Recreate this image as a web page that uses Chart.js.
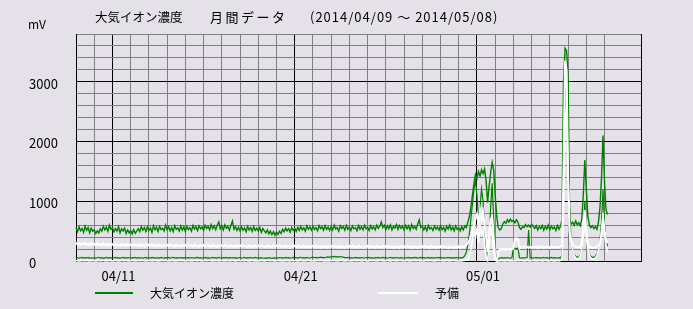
<!DOCTYPE html>
<html>
<head>
<meta charset="utf-8">
<script src="https://cdn.jsdelivr.net/npm/chart.js@4.4.1/dist/chart.umd.min.js"></script>
<style>
    html, body { margin: 0; padding: 0; background: #e5e1e8; }
</style>
</head>
<body>
<canvas id="ionChart" width="693" height="309"></canvas>
<script>
const titleParts = ["大気イオン濃度", "月間データ", "(2014/04/09 ～ 2014/05/08)"];
const unitLabel = "mV";
const seriesNames = ["大気イオン濃度", "予備"];
const tickDays = [2, 12, 22];
const tickLabels = ["04/11", "04/21", "05/01"];
const yMax = 3800;

// 2-hourly readings from 2014/04/09 00:00, one row per day
const ionUpper = [
    555, 490, 570, 505, 545, 480, 585, 515, 560, 470, 550, 500,
    520, 460, 505, 470, 540, 500, 580, 520, 565, 495, 600, 530,
    560, 490, 545, 500, 575, 470, 540, 505, 550, 460, 520, 470,
    510, 455, 525, 465, 500, 540, 490, 575, 515, 560, 495, 570,
    510, 555, 480, 590, 520, 565, 495, 580, 525, 550, 500, 600,
    520, 575, 505, 560, 490, 590, 530, 555, 500, 585, 515, 570,
    495, 580, 525, 560, 500, 595, 535, 575, 510, 590, 540, 570,
    515, 600, 545, 580, 520, 610, 540, 590, 525, 600, 655, 540,
    590, 520, 605, 545, 580, 515, 595, 670, 530, 575, 510, 565,
    500, 570, 515, 555, 490, 580, 520, 560, 495, 575, 510, 550,
    500, 560, 480, 545, 505, 470, 520, 455, 500, 440, 490, 430,
    485, 445, 500, 460, 530, 490, 550, 505, 540, 485, 560, 510,
    545, 495, 565, 510, 580, 520, 555, 500, 590, 530, 570, 515,
    585, 525, 560, 505, 595, 540, 575, 515, 590, 530, 565, 510,
    580, 520, 600, 535, 560, 500, 590, 545, 575, 515, 595, 530,
    570, 510, 585, 540, 560, 505, 595, 530, 575, 520, 600, 540,
    565, 510, 590, 535, 575, 520, 600, 545, 580, 655, 560, 600,
    525, 590, 540, 605, 520, 580, 550, 610, 530, 595, 545, 585,
    520, 600, 540, 590, 515, 610, 545, 580, 530, 620, 690, 560,
    590, 520, 575, 505, 595, 535, 560, 510, 585, 530, 570, 515,
    590, 525, 565, 500, 580, 535, 600, 520, 570, 505, 585, 530,
    560, 505, 575, 520, 590, 560, 650, 740, 900, 1100, 1300, 1450,
    1380, 1500, 1420, 1530, 1460, 1540, 1350, 980, 1250, 1480, 1650, 1520,
    1100, 750, 560, 520, 540, 620, 660, 630, 690, 650, 700, 660,
    680, 640, 690, 650, 560, 530, 575, 560, 610, 575, 600, 565,
    615, 580, 545, 590, 520, 575, 540, 595, 515, 580, 535, 600,
    520, 585, 540, 570, 510, 595, 530, 580, 700, 3000, 3560, 3520,
    3100, 700, 620, 650, 600, 670, 610, 640, 590, 700, 1100, 1690,
    1200, 750, 600, 560, 590, 540, 575, 530, 650, 900, 1400, 2100,
    1300, 850, 780
];
const ionLower = [
    52, 58, 47, 55, 61, 49, 56, 51, 60, 46, 54, 50,
    57, 48, 55, 62, 50, 57, 45, 53, 59, 49, 56, 52,
    48, 55, 60, 50, 57, 46, 54, 61, 49, 55, 51, 58,
    47, 56, 52, 60, 48, 55, 50, 58, 46, 54, 59, 50,
    55, 49, 61, 52, 57, 47, 56, 50, 60, 53, 48, 57,
    51, 59, 46, 55, 62, 50, 56, 48, 58, 52, 55, 49,
    60, 51, 55, 47, 58, 53, 49, 57, 61, 50, 56, 48,
    54, 60, 50, 57, 46, 55, 59, 51, 56, 48, 62, 52,
    49, 57, 53, 60, 47, 55, 51, 58, 50, 56, 45, 54,
    58, 50, 55, 61, 48, 56, 52, 59, 47, 55, 60, 51,
    53, 48, 57, 50, 44, 52, 46, 55, 49, 43, 51, 47,
    55, 49, 58, 51, 56, 47, 60, 53, 57, 50, 55, 61,
    52, 58, 49, 56, 62, 51, 57, 48, 59, 54, 50, 58,
    63, 55, 60, 52, 58, 64, 57, 61, 55, 66, 70, 62,
    74, 68, 76, 70, 72, 66, 75, 69, 64, 58, 55, 60,
    52, 57, 49, 55, 60, 51, 56, 48, 58, 53, 50, 57,
    55, 60, 50, 57, 47, 56, 52, 59, 49, 55, 61, 52,
    57, 50, 55, 62, 48, 56, 51, 58, 54, 49, 57, 53,
    50, 58, 53, 60, 47, 55, 52, 59, 56, 49, 55, 60,
    52, 57, 48, 55, 61, 50, 56, 53, 47, 58, 51, 55,
    59, 50, 56, 48, 54, 60, 51, 57, 49, 55, 52, 58,
    50, 56, 52, 60, 90, 150, 280, 450, 700, 950, 1200, 1350,
    1100, 700, 900, 1200, 1000, 600, 250, 40, 300, 900, 1300, 700,
    150, 20, 30, 50, 55, 48, 56, 50, 58, 52, 49, 55,
    210, 215, 205, 220, 55, 50, 57, 48, 55, 60, 520, 52,
    58, 49, 55, 61, 50, 56, 47, 54, 59, 51, 56, 48,
    55, 60, 50, 57, 52, 48, 56, 51, 100, 1500, 2800, 3000,
    2000, 900, 300, 180, 110, 80, 60, 70, 100, 200, 450, 1000,
    450, 200, 110, 80, 60, 60, 80, 120, 200, 350, 650, 1200,
    600, 350, 250
];
const spareUpper = [
    310, 275, 300, 265, 295, 280, 305, 270, 290, 262, 298, 275,
    288, 262, 295, 270, 285, 258, 292, 268, 280, 255, 290, 265,
    282, 258, 290, 262, 278, 255, 286, 260, 275, 250, 284, 262,
    276, 252, 285, 258, 272, 250, 280, 255, 270, 248, 282, 256,
    274, 250, 280, 254, 268, 246, 278, 252, 266, 244, 276, 250,
    270, 248, 278, 252, 265, 242, 275, 250, 262, 240, 272, 248,
    268, 245, 276, 250, 262, 240, 274, 248, 260, 238, 270, 246,
    266, 242, 272, 248, 258, 236, 270, 245, 256, 234, 268, 244,
    264, 240, 270, 246, 256, 234, 268, 242, 254, 232, 266, 240,
    262, 238, 268, 244, 254, 232, 265, 240, 252, 230, 264, 238,
    260, 236, 266, 242, 252, 230, 262, 238, 250, 228, 262, 236,
    258, 234, 264, 240, 250, 228, 260, 236, 248, 226, 258, 234,
    256, 232, 262, 238, 248, 226, 258, 234, 246, 225, 256, 232,
    255, 230, 260, 236, 246, 224, 256, 232, 245, 222, 255, 230,
    254, 228, 258, 234, 245, 222, 255, 230, 244, 220, 254, 228,
    252, 227, 257, 233, 244, 221, 254, 229, 243, 220, 252, 227,
    251, 226, 256, 232, 243, 220, 253, 228, 242, 219, 251, 226,
    250, 225, 255, 231, 242, 219, 252, 227, 241, 218, 250, 225,
    249, 224, 254, 230, 241, 218, 251, 226, 240, 217, 249, 224,
    248, 223, 253, 229, 240, 217, 250, 225, 239, 216, 248, 223,
    247, 222, 252, 228, 239, 216, 249, 224, 238, 215, 247, 222,
    246, 221, 251, 228, 240, 270, 300, 350, 420, 500, 600, 700,
    780, 650, 850, 700, 820, 600, 400, 150, 500, 700, 740, 400,
    60, 10, 120, 200, 190, 205, 185, 200, 195, 210, 190, 200,
    205, 375, 380, 365, 210, 235, 220, 245, 225, 240, 218, 238,
    222, 245, 228, 240, 215, 238, 225, 246, 220, 236, 228, 242,
    218, 240, 226, 235, 220, 244, 225, 238, 260, 1500, 3350, 3200,
    1400, 500, 350, 280, 250, 240, 225, 235, 220, 300, 600, 850,
    500, 300, 220, 235, 215, 230, 220, 240, 260, 300, 450, 700,
    500, 350, 300
];
const spareLower = [
    10, 0, 5, 0, 8, 2, 0, 6, 0, 4, 0, 7,
    0, 5, 0, 9, 0, 3, 6, 0, 4, 0, 8, 0,
    5, 0, 7, 0, 3, 0, 9, 2, 0, 6, 0, 4,
    0, 8, 0, 5, 0, 6, 0, 3, 7, 0, 5, 0,
    6, 0, 4, 0, 8, 0, 5, 0, 3, 9, 0, 6,
    0, 4, 0, 7, 0, 5, 2, 0, 8, 0, 6, 0,
    5, 0, 9, 0, 4, 0, 6, 3, 0, 7, 0, 5,
    0, 6, 0, 4, 8, 0, 5, 0, 6, 0, 3, 0,
    7, 0, 5, 0, 6, 2, 0, 8, 0, 4, 0, 6,
    0, 5, 3, 0, 7, 0, 4, 0, 9, 0, 5, 0,
    4, 0, 6, 0, 5, 0, 8, 3, 0, 6, 0, 4,
    0, 7, 0, 5, 0, 4, 0, 6, 2, 0, 8, 0,
    6, 0, 4, 0, 9, 0, 5, 0, 3, 7, 0, 5,
    0, 5, 0, 8, 0, 6, 3, 0, 5, 0, 4, 0,
    7, 0, 6, 0, 4, 0, 8, 2, 0, 5, 0, 6,
    0, 4, 0, 7, 5, 0, 6, 0, 3, 0, 8, 0,
    5, 0, 8, 0, 6, 0, 4, 0, 7, 2, 0, 5,
    0, 6, 0, 5, 0, 8, 0, 4, 0, 6, 3, 0,
    4, 0, 7, 0, 5, 0, 6, 3, 0, 8, 0, 5,
    0, 5, 0, 6, 0, 4, 9, 0, 5, 0, 7, 0,
    6, 0, 4, 0, 8, 0, 5, 0, 6, 3, 0, 5,
    0, 5, 0, 8, 10, 15, 20, 80, 200, 350, 500, 400,
    550, 300, 600, 450, 500, 250, 80, 10, 250, 550, 480, 150,
    10, 0, 5, 0, 8, 0, 5, 0, 6, 0, 4, 0,
    0, 5, 0, 8, 0, 6, 0, 4, 0, 7, 0, 5,
    0, 6, 0, 4, 0, 8, 0, 5, 0, 6, 0, 4,
    0, 7, 0, 5, 0, 6, 0, 8, 30, 800, 2200, 2600,
    1500, 450, 300, 180, 100, 50, 30, 40, 80, 200, 400, 700,
    400, 200, 100, 50, 30, 30, 50, 90, 180, 300, 500, 800,
    450, 250, 150
];

// sample times in days since 04/09 00:00
const sampleDays = ionUpper.map(function (v, i) { return i / 12; });

const GREEN = "#008000";
const FONT = '"Noto Sans CJK JP", "Noto Sans", sans-serif';
Chart.defaults.font.family = FONT;

// title, unit and legend drawn at fixed places like the original
const annotations = {
    id: "annotations",
    afterDraw: function (chart) {
        var ctx = chart.ctx;
        ctx.save();
        ctx.fillStyle = "#000";
        ctx.textBaseline = "middle";
        ctx.font = "12.5px " + FONT;
        ctx.fillText(titleParts[0], 95, 17);
        ctx.letterSpacing = "2.5px";
        ctx.font = "13px " + FONT;
        ctx.fillText(titleParts[1], 210, 17);
        ctx.letterSpacing = "1px";
        ctx.fillText(titleParts[2], 310, 17);
        ctx.letterSpacing = "0px";
        ctx.font = "12px " + FONT;
        ctx.fillText(unitLabel, 28, 24);

        ctx.lineWidth = 2;
        ctx.strokeStyle = GREEN;
        ctx.beginPath();
        ctx.moveTo(95, 293);
        ctx.lineTo(133, 293);
        ctx.stroke();
        ctx.strokeStyle = "#fff";
        ctx.beginPath();
        ctx.moveTo(378, 293);
        ctx.lineTo(418, 293);
        ctx.stroke();
        ctx.fillText(seriesNames[0], 150, 293);
        ctx.fillText(seriesNames[1], 435, 293);
        ctx.restore();
    },
};

new Chart(document.getElementById("ionChart"), {
    type: "line",
    data: {
        labels: sampleDays,
        datasets: [
            { label: seriesNames[1], data: spareUpper, borderColor: "#ffffff", borderWidth: 2 },
            { label: seriesNames[1], data: spareLower, borderColor: "#ffffff", borderWidth: 1.5 },
            { label: seriesNames[0], data: ionUpper, borderColor: GREEN, borderWidth: 1.4 },
            { label: seriesNames[0], data: ionLower, borderColor: GREEN, borderWidth: 1.2 },
        ],
    },
    options: {
        responsive: false,
        animation: false,
        layout: { padding: { left: 29, top: 34, right: 52, bottom: 0 } },
        elements: {
            line: { tension: 0 },
            point: { radius: 0 },
        },
        datasets: { line: { clip: false } },
        plugins: {
            legend: { display: false },
            tooltip: { enabled: false },
        },
        scales: {
            x: {
                type: "linear",
                min: 0,
                max: 31,
                afterFit: function (scale) { scale.height = 48; },
                border: { color: "#000" },
                grid: {
                    drawTicks: false,
                    color: function (c) {
                        var v = c.tick.value;
                        if (v === 30) return "rgba(0,0,0,0)";
                        if (v === 0 || v === 31 || tickDays.indexOf(v) >= 0) return "#000";
                        return "#808080";
                    },
                },
                ticks: {
                    stepSize: 1,
                    autoSkip: false,
                    maxRotation: 0,
                    padding: 7,
                    labelOffset: 6,
                    color: "#000",
                    font: { size: 13 },
                    callback: function (v) {
                        var k = tickDays.indexOf(v);
                        return k >= 0 ? tickLabels[k] : "";
                    },
                },
            },
            y: {
                min: 0,
                max: yMax,
                afterFit: function (scale) { scale.width = 47; },
                border: { color: "#000" },
                grid: {
                    drawTicks: false,
                    color: function (c) {
                        return c.tick.value % 1000 === 0 ? "#000" : "#808080";
                    },
                },
                ticks: {
                    stepSize: 200,
                    autoSkip: false,
                    crossAlign: "far",
                    labelOffset: 2,
                    color: "#000",
                    font: { size: 13 },
                    callback: function (v) {
                        return v % 1000 === 0 ? String(v) : "";
                    },
                },
            },
        },
    },
    plugins: [annotations],
});
</script>
</body>
</html>
